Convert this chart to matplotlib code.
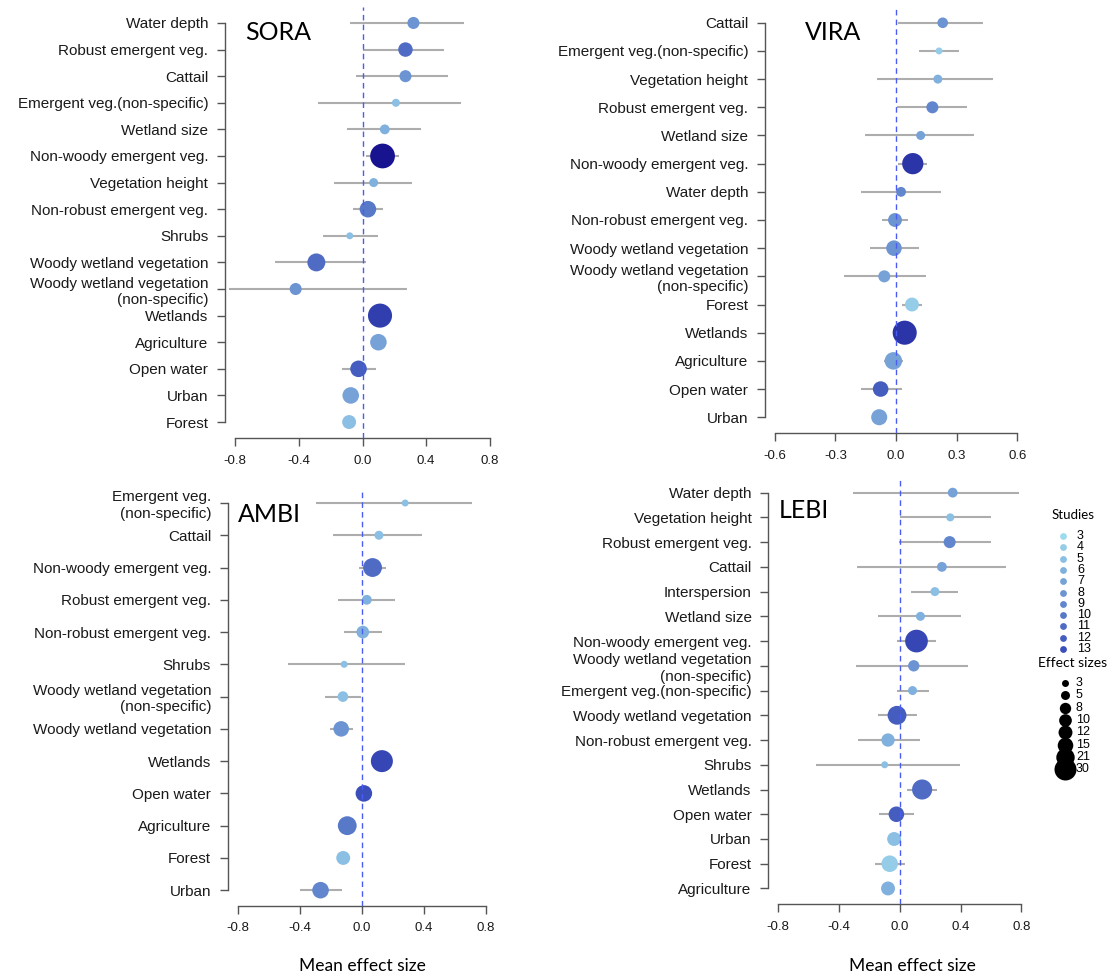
import matplotlib.pyplot as plt
import numpy as np
from matplotlib.colors import LinearSegmentedColormap, Normalize


W, H = 1111, 974
DPI = 100
LABEL_FONT = "Liberation Sans"
TITLE_FONT = "Lato"

# --- SORA -------------------------------------------------------------
sora_labels = [
    "Water depth", "Robust emergent veg.", "Cattail", "Emergent veg.(non-specific)",
    "Wetland size", "Non-woody emergent veg.", "Vegetation height",
    "Non-robust emergent veg.", "Shrubs", "Woody wetland vegetation",
    "Woody wetland vegetation\n(non-specific)", "Wetlands", "Agriculture",
    "Open water", "Urban", "Forest",
]
sora_mean = [0.32, 0.27, 0.27, 0.21, 0.14, 0.126, 0.07, 0.034, -0.08, -0.29, -0.42,
             0.11, 0.10, -0.025, -0.074, -0.084]
sora_lo = [-0.076, 0.0, -0.04, -0.28, -0.095, 0.025, -0.18, -0.06, -0.25, -0.55, -0.84,
           0.06, 0.07, -0.13, -0.10, -0.11]
sora_hi = [0.636, 0.51, 0.54, 0.62, 0.37, 0.23, 0.31, 0.126, 0.10, 0.02, 0.28,
           0.16, 0.13, 0.085, -0.05, -0.06]
sora_studies = [8, 11, 8, 5, 6, 20, 6, 10, 5, 11, 8, 15, 7, 12, 7, 5]
sora_effects = [9, 13, 9, 4, 6, 38, 5, 17, 3, 20, 9, 36, 17, 17, 17, 12]

# --- VIRA -------------------------------------------------------------
vira_labels = [
    "Cattail", "Emergent veg.(non-specific)", "Vegetation height",
    "Robust emergent veg.", "Wetland size", "Non-woody emergent veg.", "Water depth",
    "Non-robust emergent veg.", "Woody wetland vegetation",
    "Woody wetland vegetation\n(non-specific)", "Forest", "Wetlands", "Agriculture",
    "Open water", "Urban",
]
vira_mean = [0.231, 0.213, 0.207, 0.18, 0.122, 0.083, 0.025, -0.005, -0.01, -0.058,
             0.079, 0.043, -0.013, -0.076, -0.083]
vira_lo = [0.012, 0.112, -0.094, 0.003, -0.154, 0.012, -0.175, -0.071, -0.131, -0.255,
           0.028, 0.01, -0.058, -0.175, -0.10]
vira_hi = [0.43, 0.314, 0.478, 0.349, 0.385, 0.155, 0.225, 0.061, 0.112, 0.147,
           0.13, 0.08, 0.036, 0.028, -0.06]
vira_studies = [8, 4, 6, 9, 7, 16, 9, 8, 8, 7, 4, 16, 7, 12, 7]
vira_effects = [7, 3, 5, 9, 5, 28, 6, 12, 15, 9, 12, 36, 19, 15, 16]

# --- AMBI -------------------------------------------------------------
ambi_labels = [
    "Emergent veg.\n(non-specific)", "Cattail", "Non-woody emergent veg.",
    "Robust emergent veg.", "Non-robust emergent veg.", "Shrubs",
    "Woody wetland vegetation\n(non-specific)", "Woody wetland vegetation",
    "Wetlands", "Open water", "Agriculture", "Forest", "Urban",
]
ambi_mean = [0.279, 0.11, 0.069, 0.032, 0.006, -0.114, -0.122, -0.133,
             0.129, 0.013, -0.094, -0.12, -0.266]
ambi_lo = [-0.296, -0.185, -0.017, -0.152, -0.114, -0.477, -0.236, -0.206,
           0.09, -0.02, -0.12, -0.14, -0.397]
ambi_hi = [0.707, 0.389, 0.155, 0.215, 0.129, 0.281, -0.004, -0.056,
           0.17, 0.04, -0.07, -0.10, -0.129]
ambi_studies = [5, 5, 11, 6, 6, 5, 5, 8, 14, 13, 10, 5, 9]
ambi_effects = [3, 5, 22, 6, 10, 3, 7, 15, 30, 17, 22, 12, 17]

# --- LEBI -------------------------------------------------------------
lebi_labels = [
    "Water depth", "Vegetation height", "Robust emergent veg.", "Cattail",
    "Interspersion", "Wetland size", "Non-woody emergent veg.",
    "Woody wetland vegetation\n(non-specific)", "Emergent veg.(non-specific)",
    "Woody wetland vegetation", "Non-robust emergent veg.", "Shrubs", "Wetlands",
    "Open water", "Urban", "Forest", "Agriculture",
]
lebi_mean = [0.348, 0.332, 0.328, 0.277, 0.231, 0.136, 0.11, 0.092, 0.084, -0.018,
             -0.077, -0.099, 0.147, -0.022, -0.037, -0.066, -0.077]
lebi_lo = [-0.31, 0.004, -0.007, -0.28, 0.077, -0.145, -0.018, -0.288, -0.02, -0.145,
           -0.273, -0.548, 0.048, -0.134, -0.06, -0.163, -0.10]
lebi_hi = [0.783, 0.599, 0.601, 0.70, 0.381, 0.40, 0.24, 0.449, 0.19, 0.112,
           0.13, 0.394, 0.244, 0.092, -0.01, 0.035, -0.05]
lebi_studies = [7, 5, 9, 7, 5, 6, 14, 8, 6, 12, 6, 5, 11, 12, 5, 4, 6]
lebi_effects = [6, 4, 9, 6, 5, 5, 32, 8, 5, 22, 11, 3, 25, 15, 12, 17, 12]

# legend values
legend_studies = [3, 4, 5, 6, 7, 8, 9, 10, 11, 12, 13]
legend_effects = [3, 5, 8, 10, 12, 15, 21, 30]

CMAP = LinearSegmentedColormap.from_list(
    "studies",
    [(0.0, "#9fdbee"), (5 / 17, "#6c94d2"), (10 / 17, "#3b4fba"), (1.0, "#18138e")],
)
NORM = Normalize(3, 20)
SIZE_PER_EFFECT = 8.36  # pt^2 per effect size
CI_COLOR = "#adadad"
ZERO_COLOR = "#4a5cf2"
SPINE_COLOR = "#555555"


def px_axes(fig, left, top, right, bottom):
    return fig.add_axes([left / W, 1 - bottom / H, (right - left) / W, (bottom - top) / H])


def panel(ax, labels, mean, lo, hi, studies, effects, lim):
    n = len(labels)
    y = np.arange(n, 0, -1)
    ax.hlines(y, lo, hi, color=CI_COLOR, lw=1.5, zorder=1)
    ax.scatter(mean, y, s=np.array(effects) * SIZE_PER_EFFECT,
               c=studies, cmap=CMAP, norm=NORM, linewidths=0, zorder=2)
    ax.axvline(0, color=ZERO_COLOR, lw=1.0, ls=(0, (4, 3)), zorder=3)

    ext = 1.08 * lim
    ax.set_xlim(-ext, ext)
    ax.set_ylim(1 - 0.04 * (n - 1), n + 0.04 * (n - 1))
    ticks = [-lim, -lim / 2, 0, lim / 2, lim]
    ax.set_xticks(ticks, [f"{t:.1f}" for t in ticks])
    ax.set_yticks(y, labels)

    for side in ("top", "right"):
        ax.spines[side].set_visible(False)
    ax.spines["left"].set_bounds(1, n)
    ax.spines["bottom"].set_bounds(-lim, lim)
    for side in ("left", "bottom"):
        ax.spines[side].set_color(SPINE_COLOR)
        ax.spines[side].set_linewidth(1.0)
    ax.patch.set_alpha(0)
    ax.tick_params(axis="y", length=6, width=1.0, color=SPINE_COLOR, pad=6,
                   labelsize=11, labelcolor="#1a1a1a")
    ax.tick_params(axis="x", length=6, width=1.0, color=SPINE_COLOR, pad=6,
                   labelsize=9.5, labelcolor="#1a1a1a")
    for lab in ax.get_yticklabels() + ax.get_xticklabels():
        lab.set_fontfamily(LABEL_FONT)


def legend(ov):
    ov.text(1073, 515, "Studies", ha="center", va="center", fontsize=9.5, family=TITLE_FONT)
    for i, s in enumerate(legend_studies):
        yy = 536 + 11.3 * i
        ov.scatter([1063], [yy], s=24, c=[s], cmap=CMAP, norm=NORM, linewidths=0)
        ov.text(1077, yy, str(s), ha="left", va="center", fontsize=9, family=LABEL_FONT)
    ov.text(1073, 663, "Effect sizes", ha="center", va="center", fontsize=10, family=TITLE_FONT)
    for i, e in enumerate(legend_effects):
        yy = 683 + 12.3 * i
        ov.scatter([1065], [yy], s=e * SIZE_PER_EFFECT, color="black", linewidths=0)
        ov.text(1076, yy, str(e), ha="left", va="center", fontsize=9, family=LABEL_FONT)


def main():
    fig = plt.figure(figsize=(W / DPI, H / DPI), dpi=DPI)

    ax = px_axes(fig, 225, 7, 500, 438)
    panel(ax, sora_labels, sora_mean, sora_lo, sora_hi, sora_studies, sora_effects, 0.8)
    ax = px_axes(fig, 765, 7, 1027, 433)
    panel(ax, vira_labels, vira_mean, vira_lo, vira_hi, vira_studies, vira_effects, 0.6)
    ax = px_axes(fig, 227.7, 487.5, 496, 905.7)
    panel(ax, ambi_labels, ambi_mean, ambi_lo, ambi_hi, ambi_studies, ambi_effects, 0.8)
    ax = px_axes(fig, 768.3, 476.8, 1031.2, 904.3)
    panel(ax, lebi_labels, lebi_mean, lebi_lo, lebi_hi, lebi_studies, lebi_effects, 0.8)

    # overlay in pixel coordinates for titles, axis labels and legend
    ov = fig.add_axes([0, 0, 1, 1])
    ov.set_xlim(0, W)
    ov.set_ylim(H, 0)
    ov.axis("off")
    ov.patch.set_alpha(0)
    for x, y, name in ((245, 32, "SORA"), (805, 32, "VIRA"), (238, 514, "AMBI"), (779, 510, "LEBI")):
        ov.text(x, y, name, ha="left", va="center", fontsize=18, family=TITLE_FONT)
    for x in (362, 912):
        ov.text(x, 966, "Mean effect size", ha="center", va="center", fontsize=12.5, family=TITLE_FONT)
    legend(ov)

    fig.savefig("out.png", dpi=DPI)
    plt.close(fig)


if __name__ == "__main__":
    main()
